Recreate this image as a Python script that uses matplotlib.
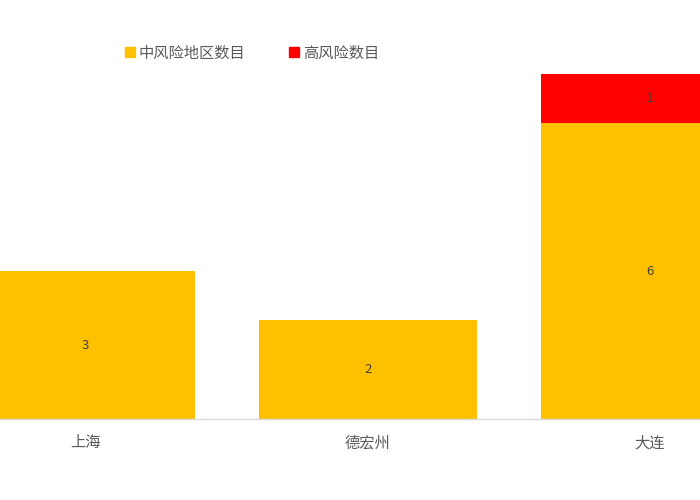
import matplotlib.pyplot as plt
from matplotlib.patches import Patch

plt.rcParams['font.family'] = ['Noto Sans CJK SC', 'DejaVu Sans']

cities = ['上海', '德宏州', '大连']
mid_risk = [3, 2, 6]
high_risk = [0, 0, 1]

yellow = '#FFC000'
red = '#FF0000'

fig = plt.figure(figsize=(7, 5), dpi=100)
ax = fig.add_axes([0, 0.162, 1, 0.690])

x = range(len(cities))
ax.bar(x, mid_risk, width=0.773, color=yellow)
ax.bar(x, high_risk, width=0.773, bottom=mid_risk, color=red)

for i in x:
    ax.text(i, mid_risk[i] / 2, str(mid_risk[i]), ha='center', va='center',
            fontsize=9.5, color='#404040')
    if high_risk[i]:
        ax.text(i, mid_risk[i] + high_risk[i] / 2, str(high_risk[i]),
                ha='center', va='center', fontsize=9.5, color='#404040')

ax.set_xlim(-0.304, 2.178)
ax.set_ylim(0, 7)
ax.set_xticks(list(x))
ax.set_xticklabels(cities, fontsize=11, color='#595959')
ax.tick_params(axis='x', length=0, pad=11)
ax.set_yticks([])
for s in ['top', 'right', 'left']:
    ax.spines[s].set_visible(False)
ax.spines['bottom'].set_color('#D9D9D9')
ax.spines['bottom'].set_linewidth(1)

handles = [Patch(color=yellow, label='中风险地区数目'),
           Patch(color=red, label='高风险数目')]
leg = fig.legend(handles=handles, loc='center', bbox_to_anchor=(252 / 700, 1 - 53 / 500),
                 ncol=2, frameon=False, fontsize=11, handlelength=0.65,
                 handleheight=0.65, handletextpad=0.25, columnspacing=2.9)
for t in leg.get_texts():
    t.set_color('#595959')

fig.savefig('out.png')
